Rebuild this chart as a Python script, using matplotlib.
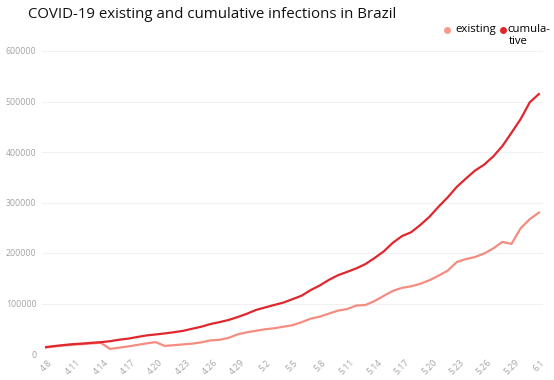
import numpy as np
import matplotlib.pyplot as plt
from matplotlib.lines import Line2D

plt.rcParams['font.family'] = ['Open Sans', 'DejaVu Sans']

# dates 4.8 .. 6.1
dates = []
for d in range(8, 31):
    dates.append('4.%d' % d)
for d in range(1, 32):
    dates.append('5.%d' % d)
dates.append('6.1')

# cumulative infections
cumulative = [13700, 15900, 17900, 19600, 20700, 22200, 23400, 25300, 28300, 30400,
              33700, 36700, 38700, 40700, 43100, 45800, 50000, 54000, 59300, 63100,
              67400, 73200, 79700, 87200, 92200, 97100, 101800, 108600, 115500, 126600,
              135800, 146900, 156100, 162700, 169600, 178200, 190100, 203200, 220300, 233500,
              241100, 255400, 271600, 291600, 310100, 330900, 347400, 363200, 374900, 391200,
              411800, 438200, 465200, 498400, 514800]

# existing infections
existing = [13000, 15000, 17000, 18500, 19500, 21000, 22000, 10000, 12500, 15000,
            18000, 21000, 23500, 16000, 17500, 19000, 20500, 23000, 27000, 28000,
            32000, 39000, 43000, 46000, 49000, 51000, 54000, 57000, 63000, 70000,
            74000, 80000, 86000, 89000, 96000, 97000, 105000, 115000, 125000, 131000,
            134000, 139000, 146000, 155000, 165000, 182000, 188000, 192000, 199000, 209000,
            222000, 218000, 249000, 267000, 280000]

c_exist = '#f58c80'
c_cum = '#e0272d'

W, H = 554, 380
fig = plt.figure(figsize=(W / 100, H / 100), dpi=100)
ax = fig.add_axes([42 / W, (H - 354) / H, (543 - 42) / W, (354 - 51) / H])

x = np.arange(len(dates))
ax.plot(x, existing, color=c_exist, lw=1.6, solid_joinstyle='round')
ax.plot(x, cumulative, color=c_cum, lw=1.6, solid_joinstyle='round')

ax.set_xlim(-0.45, len(dates) - 1 + 0.45)
ax.set_ylim(0, 600000)
ax.set_yticks(range(0, 600001, 100000))
ax.set_yticklabels([str(v) for v in range(0, 600001, 100000)])
ax.set_xticks(x[::3])
ax.set_xticklabels(dates[::3], rotation=45, ha='center')
ax.tick_params(axis='both', length=0, labelsize=6.3, labelcolor='#a3a3a3')
ax.tick_params(axis='y', pad=4)
ax.tick_params(axis='x', pad=3)
ax.grid(axis='y', color='#f1f1f1', lw=0.8)
ax.set_axisbelow(True)
for s in ax.spines.values():
    s.set_visible(False)

fig.text(28 / W, 1 - 15 / H, 'COVID-19 existing and cumulative infections in Brazil',
         fontsize=10.8, va='center', ha='left', color='#111111')

# legend
fig.add_artist(Line2D([447 / W], [1 - 29.5 / H], marker='o', ms=4, color='#f59a8e', lw=0,
                      transform=fig.transFigure))
fig.text(455 / W, 1 - 29.5 / H, 'existing', fontsize=8.2, va='center', ha='left')
fig.add_artist(Line2D([503 / W], [1 - 29.5 / H], marker='o', ms=4, color=c_cum, lw=0,
                      transform=fig.transFigure))
fig.text(507 / W, 1 - 29.5 / H, 'cumula-', fontsize=8.2, va='center', ha='left')
fig.text(509 / W, 1 - 41.5 / H, 'tive', fontsize=8.2, va='center', ha='left')

fig.savefig('out.png', dpi=100)
